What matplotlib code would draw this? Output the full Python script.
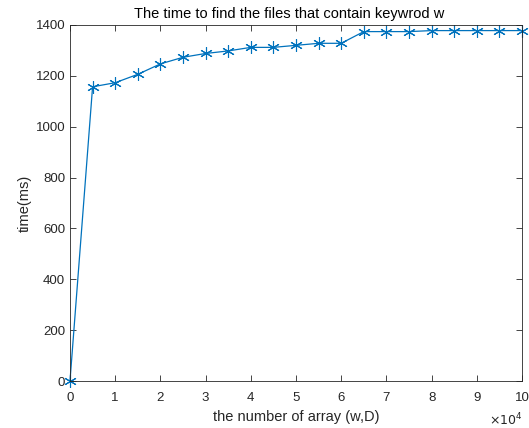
import numpy as np
import matplotlib.pyplot as plt

plt.rcParams['font.family'] = ['Liberation Sans', 'DejaVu Sans']

# data (x in units of 10^4)
array_num = [0, 0.5, 1, 1.5, 2, 2.5, 3, 3.5, 4, 4.5, 5, 5.5, 6, 6.5, 7, 7.5, 8, 8.5, 9, 9.5, 10]
time_ms = [0, 1157, 1173, 1206, 1247, 1273, 1288, 1298, 1312, 1312, 1320, 1328, 1328,
           1374, 1374, 1374, 1378, 1378, 1378, 1378, 1378]
x_ticks = [0, 1, 2, 3, 4, 5, 6, 7, 8, 9, 10]
y_ticks = [0, 200, 400, 600, 800, 1000, 1200, 1400]

fig = plt.figure(figsize=(5.29, 4.28), dpi=100)
ax = fig.add_axes([0.1323, 0.1098, 0.8544, 0.8318])

# MATLAB style asterisk marker
ax.plot(array_num, time_ms, color='#0072BD', marker=(6, 2, 0), markersize=9, linewidth=0.9,
        markeredgewidth=0.8, clip_on=False)

ax.set_xlim(0, 10)
ax.set_ylim(0, 1400)
ax.set_xticks(x_ticks)
ax.set_yticks(y_ticks)

gray = '#262626'
for s in ax.spines.values():
    s.set_color(gray)
    s.set_linewidth(0.6)
ax.tick_params(direction='in', top=True, right=True, length=4, width=0.6,
               colors=gray, labelsize=9.5, labelcolor=gray)
ax.tick_params(axis='x', pad=8)

ax.set_xlabel('the number of array (w,D)', fontsize=10.5, color=gray, labelpad=4)
ax.set_ylabel('time(ms)', fontsize=10.5, color=gray, labelpad=3)
ax.set_title('The time to find the files that contain keywrod w', fontsize=10.5,
             color='black', pad=5, x=0.486)

ax.text(1.002, -0.11, r'$\times10^{4}$', transform=ax.transAxes, ha='right', va='center',
        fontsize=9, color=gray)

fig.savefig('out.png', dpi=100)
